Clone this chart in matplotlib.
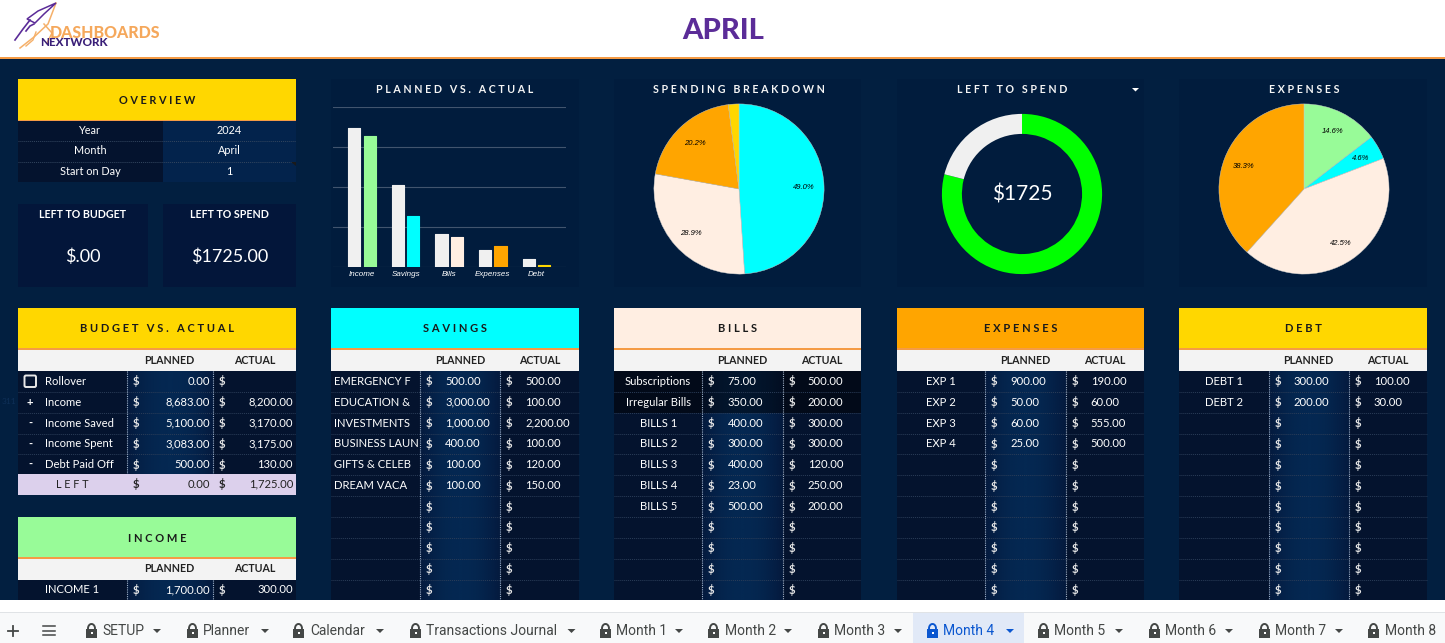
import matplotlib
matplotlib.use("Agg")
import matplotlib.pyplot as plt
import numpy as np
from matplotlib.patches import Rectangle, FancyBboxPatch, Polygon, Arc

W, H = 1445, 643

# ---- data ----
bar_categories = ["Income", "Savings", "Bills", "Expenses", "Debt"]
bar_planned = [8683, 5100, 2048, 1035, 500]
bar_actual = [8200, 3170, 1870, 1305, 130]
bar_actual_colors = ["#98fb98", "#00ffff", "#ffeee2", "#ffa500", "#ffd700"]

spending_values = [3170, 1870, 1305, 130]
spending_colors = ["#00ffff", "#ffeee2", "#ffa500", "#ffd700"]

left_values = [6475, 1725]
left_colors = ["#00ff00", "#f0f0f0"]

expenses_values = [190, 60, 555, 500]
expenses_colors = ["#98fb98", "#00ffff", "#ffeee2", "#ffa500"]

budget_signs = ["", "+", "-", "-", "-"]
budget_names = ["Rollover", "Income", "Income Saved", "Income Spent", "Debt Paid Off"]
budget_planned = ["0.00", "8,683.00", "5,100.00", "3,083.00", "500.00"]
budget_actual = ["", "8,200.00", "3,170.00", "3,175.00", "130.00"]

savings_names = ["EMERGENCY F", "EDUCATION &", "INVESTMENTS", "BUSINESS LAUN", "GIFTS & CELEB", "DREAM VACA"]
savings_planned = ["500.00", "3,000.00", "1,000.00", "400.00", "100.00", "100.00"]
savings_actual = ["500.00", "100.00", "2,200.00", "100.00", "120.00", "150.00"]

bills_names = ["Subscriptions", "Irregular Bills", "BILLS 1", "BILLS 2", "BILLS 3", "BILLS 4", "BILLS 5"]
bills_planned = ["75.00", "350.00", "400.00", "300.00", "400.00", "23.00", "500.00"]
bills_actual = ["500.00", "200.00", "300.00", "300.00", "120.00", "250.00", "200.00"]

exp_names = ["EXP 1", "EXP 2", "EXP 3", "EXP 4"]
exp_planned = ["900.00", "50.00", "60.00", "25.00"]
exp_actual = ["190.00", "60.00", "555.00", "500.00"]

debt_names = ["DEBT 1", "DEBT 2"]
debt_planned = ["300.00", "200.00"]
debt_actual = ["100.00", "30.00"]

tab_names = ["SETUP", "Planner", "Calendar", "Transactions Journal", "Month 1", "Month 2",
             "Month 3", "Month 4", "Month 5", "Month 6", "Month 7", "Month 8"]

# ---- colours ----
BG = "#021f40"
PANEL = "#011c3d"
CARD = "#03163a"
LABEL_COL = "#04132e"
ACTUAL_COL = "#04132e"
ORANGE = "#f59b45"
YELLOW = "#ffd700"
FONT = "Lato"
CHART_FONT = "Liberation Sans"

plt.rcParams["font.family"] = [FONT, "DejaVu Sans"]

fig = plt.figure(figsize=(W / 100, H / 100), dpi=100, facecolor=BG)
main = fig.add_axes([0, 0, 1, 1])
main.set_xlim(0, W)
main.set_ylim(H, 0)
main.axis("off")


def px_axes(x0, y0, x1, y1):
    ax = fig.add_axes([x0 / W, 1 - y1 / H, (x1 - x0) / W, (y1 - y0) / H])
    ax.patch.set_alpha(0)
    return ax


def box(x0, y0, x1, y1, color, z=1, **kw):
    main.add_patch(Rectangle((x0, y0), x1 - x0, y1 - y0, facecolor=color, edgecolor="none", zorder=z, **kw))


def label(x, y, s, color="white", size=8.1, weight="normal", ha="center", **kw):
    main.text(x, y, s, color=color, fontsize=size, fontweight=weight, ha=ha, va="center", zorder=6, **kw)


def tracked(s):
    return " ".join(s)


planned_glow = (1 - np.abs(np.linspace(-1, 1, 41)) ** 2).reshape(1, -1)
glow_cmap = matplotlib.colors.LinearSegmentedColormap.from_list("glow", ["#041a3e", "#042852"])


def table(x0, x1, c1, c2, y_head, title, head_color, rows_bottom, names, planned, actual, style="center", title_color="#1a1a1a"):
    y_line = y_head + 40
    y_sub = y_line + 2
    y_rows = y_sub + 21
    rh = 20.85
    box(x0, y_head, x1, y_line, head_color)
    box(x0, y_line, x1, y_sub, ORANGE)
    box(x0, y_sub, x1, y_rows, "#f3f3f3")
    label((x0 + x1) / 2, y_head + 21, tracked(title), color=title_color, size=8, weight="bold")
    label((c1 + c2) / 2, y_sub + 10, "PLANNED", color="#222222", size=7.7, weight="bold")
    label((c2 + x1) / 2, y_sub + 10, "ACTUAL", color="#222222", size=7.7, weight="bold")
    box(x0, y_rows, c1, rows_bottom, LABEL_COL)
    box(c2, y_rows, x1, rows_bottom, ACTUAL_COL)
    main.imshow(planned_glow, extent=(c1, c2, rows_bottom, y_rows), aspect="auto", cmap=glow_cmap,
                interpolation="bilinear", zorder=1)
    n_rows = int(round((rows_bottom - y_rows) / rh))
    for i in range(n_rows):
        y = y_rows + i * rh
        if i:
            main.plot([x0, x1], [y, y], color="#2b3d58", lw=0.7, ls=(0, (1, 1)), zorder=3)
        yc = y + rh / 2
        if style != "budget":
            label(c1 + 9, yc, "$", weight="bold", color="#e8e8e8")
            label(c2 + 9, yc, "$", weight="bold", color="#e8e8e8")
        if i < len(names):
            if style == "left":
                label(x0 + 3, yc, names[i], ha="left")
            elif style == "center":
                label((x0 + c1) / 2, yc, names[i])
            if style != "budget":
                label(c1 + 25, yc, planned[i], ha="left")
                label(c2 + 25, yc, actual[i], ha="left")
    for cx in (c1, c2):
        main.plot([cx, cx], [y_rows, rows_bottom], color="#9fb0c6", lw=0.8, ls=(0, (1, 1)), zorder=3)
    return y_rows, rh


# ---- header strip ----
box(0, 0, W, 56.5, "white", z=8)
box(0, 56.5, W, 58.5, ORANGE, z=8)
main.text(723, 31, "APRIL", color="#5b2c98", fontsize=21, fontweight="black", ha="center", va="center", zorder=9)
# logo
main.plot([56, 48, 34, 20], [3, 24, 37, 48], color="#f5b06a", lw=1.1, zorder=9)
main.plot([44, 52, 47], [24, 33, 43], color="#f5b06a", lw=1.1, zorder=9)
main.plot([36, 33, 26], [32, 40, 46], color="#f5b06a", lw=1.0, zorder=9)
main.add_patch(Polygon([[56, 3], [38, 11], [27, 19], [35, 23], [44, 14]], facecolor="white",
                       edgecolor="#5b2c98", lw=1.1, zorder=9))
main.plot([30, 23, 15], [20, 29, 40], color="#5b2c98", lw=1.2, zorder=9)
main.plot([34, 30, 26], [24, 26, 31], color="#5b2c98", lw=1.2, zorder=9)
main.text(50, 32.5, "DASHBOARDS", color="#f5a85c", fontsize=11.5, fontweight="black", ha="left", va="center", zorder=9)
main.text(40, 42.5, "NEXTWORK", color="#3a1f78", fontsize=8.4, fontweight="black", ha="left", va="center", zorder=10)

# ---- overview block ----
box(18, 79, 296, 120, YELLOW)
box(18, 120, 296, 121, ORANGE)
label(157, 100, tracked("OVERVIEW"), color="#1a1a1a", size=7.8, weight="bold")
box(18, 121, 162.5, 182, LABEL_COL)
box(162.5, 121, 296, 182, "#03234c")
for i, (k, v) in enumerate(zip(["Year", "Month", "Start on Day"], ["2024", "April", "1"])):
    yc = 130.5 + i * 20.5
    label(90, yc, k, size=7.8)
    label(229, yc, v, size=7.8)
    if i:
        main.plot([18, 296], [120.5 + i * 20.5] * 2, color="#33465f", lw=0.7, ls=(0, (1, 1)), zorder=3)
main.add_patch(Polygon([[291, 162], [296, 162], [296, 166]], facecolor="#1a1a1a", zorder=4))

for x0, x1, title, value in [(18, 147.5, "LEFT TO BUDGET", "$.00"), (162.5, 296, "LEFT TO SPEND", "$1725.00")]:
    box(x0, 204, x1, 287, CARD)
    label((x0 + x1) / 2, 214, title, size=7.7, weight="bold")
    label((x0 + x1) / 2, 256.5, value, size=13)

# ---- chart panels ----
for x0, x1, title, tx in [(331, 579, "PLANNED VS. ACTUAL", 455), (614, 861, "SPENDING BREAKDOWN", 739),
                          (897, 1144, "LEFT TO SPEND", 1012), (1179, 1427, "EXPENSES", 1304)]:
    box(x0, 79, x1, 287, PANEL)
    label(tx, 89.5, tracked(title), size=7.7, weight="bold", color="#f5f5f5")
main.add_patch(Polygon([[1132, 88], [1139, 88], [1135.5, 91.5]], facecolor="white", zorder=5))

# planned vs actual bars
ax = px_axes(332.5, 107, 566, 267)
x = np.arange(len(bar_categories))
ax.bar(x - 0.175, bar_planned, width=0.28, color="#f0f0f0", edgecolor="#f0f0f0", lw=0.8, joinstyle="round", zorder=3)
ax.bar(x + 0.175, bar_actual, width=0.28, color=bar_actual_colors, edgecolor=bar_actual_colors, lw=0.8, joinstyle="round", zorder=3)
ax.set_xlim(-0.677, 4.68)
ax.set_ylim(0, 10000)
ax.set_yticks([0, 2500, 5000, 7500, 10000])
ax.set_yticklabels([])
ax.set_xticks(x)
ax.set_xticklabels(bar_categories, color="white", fontsize=5.8, style="italic", family=CHART_FONT)
ax.tick_params(length=0, pad=3)
ax.grid(axis="y", color="#41546e", lw=0.8, zorder=0)
for s in ax.spines.values():
    s.set_visible(False)


def pct_text(p):
    return "%.1f%%" % p if p >= 3 else ""


def draw_pie(cx, values, colors):
    a = px_axes(cx - 85.5, 103.5, cx + 85.5, 274.5)
    _, _, texts = a.pie(values, colors=colors, startangle=90, counterclock=False, radius=1,
                        autopct=pct_text, pctdistance=0.76,
                        wedgeprops={"linewidth": 0.3, "edgecolor": "#cccccc"})
    for t in texts:
        t.set(fontsize=5.5, style="italic", color="black", family=CHART_FONT, va="center_baseline")
    a.set_xlim(-1.005, 1.005)
    a.set_ylim(-1.005, 1.005)


draw_pie(739, spending_values, spending_colors)
draw_pie(1304, expenses_values, expenses_colors)

# left to spend donut
a = px_axes(941.5, 113.5, 1102.5, 274.5)
a.pie(left_values, colors=left_colors, startangle=90, counterclock=False, radius=1, wedgeprops={"width": 0.25})
a.set_xlim(-1.005, 1.005)
a.set_ylim(-1.005, 1.005)
a.text(0, -0.01, "$1725", color="white", fontsize=15, ha="center", va="center")

# ---- tables ----
BOTTOM = 600
y_rows, rh = table(18, 296, 126.5, 212.6, 308, "BUDGET VS. ACTUAL", YELLOW, 494,
                   budget_names, budget_planned, budget_actual, style="budget")
for i in range(5):
    yc = y_rows + i * rh + rh / 2
    label(45, yc, budget_names[i], ha="left")
    label(30, yc, budget_signs[i], weight="bold")
    label(136, yc, "$", weight="bold", color="#e8e8e8")
    label(221.5, yc, "$", weight="bold", color="#e8e8e8")
    label(210, yc, budget_planned[i], ha="right")
    label(293, yc, budget_actual[i], ha="right")
main.add_patch(FancyBboxPatch((24.5, 375.5), 11.5, 11.5, boxstyle="round,pad=0,rounding_size=1.5",
                              facecolor="none", edgecolor="#e8e8e8", lw=1.4, zorder=5))
label(9, 402, "311", size=6, color="#0e2f57")
# LEFT row sits over the bottom of the block
box(18, 473.5, 296, 494.5, "#dcd0ec", z=4)
label(72, 484.5, tracked("LEFT"), color="#222222", size=7.8)
label(136, 484, "$", color="#222222", weight="bold")
label(221.5, 484, "$", color="#222222", weight="bold")
label(210, 484, "0.00", color="#222222", ha="right")
label(293, 484, "1,725.00", color="#222222", ha="right")

# income block
y_rows, rh = table(18, 296, 126.5, 212.6, 517, "INCOME", "#98fb98", BOTTOM, ["INCOME 1"], ["1,700.00"], ["300.00"], style="budget")
label(72, 589.5, "INCOME 1")
label(136, 589.5, "$", weight="bold", color="#e8e8e8")
label(221.5, 589.5, "$", weight="bold", color="#e8e8e8")
label(210, 589.5, "1,700.00", ha="right")
label(293, 589.5, "300.00", ha="right")

table(331, 579, 420.3, 500.4, 308, "SAVINGS", "#00ffff", BOTTOM, savings_names, savings_planned, savings_actual, style="left")
y_rows, rh = table(614, 861, 702.4, 782.7, 308, "BILLS", "#ffeee2", BOTTOM, bills_names, bills_planned, bills_actual)
box(614, y_rows, 861, y_rows + 2 * rh, "black", z=2, alpha=0.45)
table(897, 1144, 985.4, 1065.8, 308, "EXPENSES", "#ffa500", BOTTOM, exp_names, exp_planned, exp_actual)
table(1179, 1427, 1268.5, 1348.8, 308, "DEBT", YELLOW, BOTTOM, debt_names, debt_planned, debt_actual)

# ---- sheet tab bar ----
box(0, 600, W, 612, "white", z=8)
box(0, 612, W, 613, "#e0e3e6", z=8)
box(0, 613, W, H, "#f8f9fa", z=8)
box(913, 613, 1024, H, "#e1e9f7", z=8)
main.plot([7.5, 17.5], [630.5, 630.5], color="#444746", lw=1.3, zorder=9)
main.plot([12.5, 12.5], [625.5, 635.5], color="#444746", lw=1.3, zorder=9)
for yy in (626, 630.5, 635):
    main.plot([43, 55], [yy, yy], color="#444746", lw=1.1, zorder=9)

tab_lock_x = [86, 187, 293, 410, 600, 708, 818, 927, 1038, 1149, 1259, 1368]
tab_text_x = [102, 203, 310, 426, 616, 725, 834, 943, 1054, 1165, 1275, 1385]
tab_caret_x = [157, 265, 380, 571.5, 679, 788, 898, 1010, 1119, 1229, 1339, None]
for i, name in enumerate(tab_names):
    active = name == "Month 4"
    c = "#0b57d0" if active else "#444746"
    lx = tab_lock_x[i]
    main.add_patch(Rectangle((lx, 629), 11, 9, facecolor=c, edgecolor="none", zorder=9))
    main.add_patch(Arc((lx + 5.5, 628.5), 7, 9, theta1=0, theta2=360, color=c, lw=1.4, zorder=9))
    main.add_patch(Rectangle((lx + 4.5, 632), 2, 2, facecolor="white", edgecolor="none", zorder=10))
    main.text(tab_text_x[i], 631, name, color=c, fontsize=10, family="Roboto", ha="left", va="center", zorder=9)
    if tab_caret_x[i]:
        cx = tab_caret_x[i]
        main.add_patch(Polygon([[cx - 4, 629], [cx + 4, 629], [cx, 633]], facecolor=c, zorder=9))

main.set_xlim(0, W)
main.set_ylim(H, 0)
fig.savefig("out.png", dpi=100, facecolor=BG)
